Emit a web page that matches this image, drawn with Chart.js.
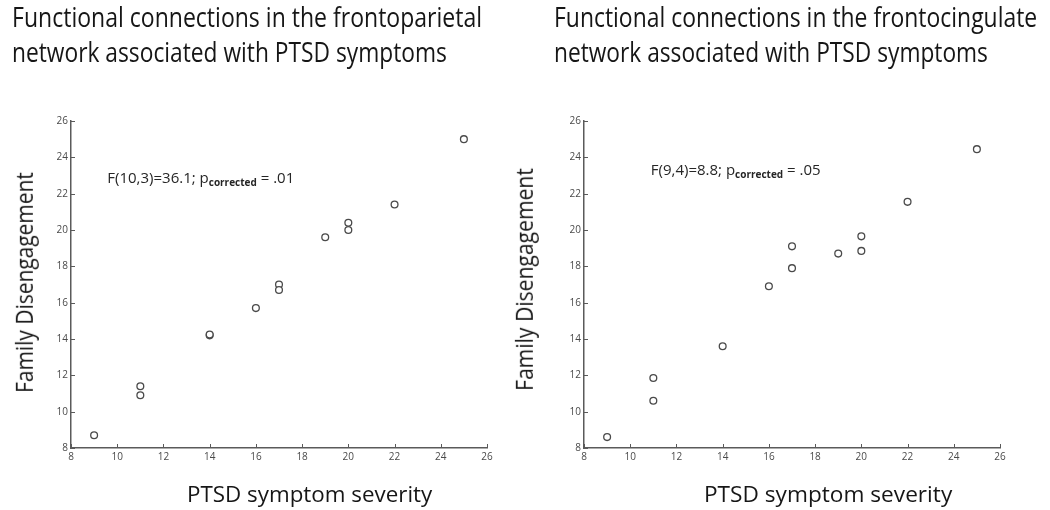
<!DOCTYPE html>
<html>
<head>
<meta charset="utf-8">
<script src="https://cdn.jsdelivr.net/npm/chart.js@4"></script>
<style>
  body { margin: 0; background: #fff; width: 1050px; height: 510px; overflow: hidden; position: relative; }
  canvas { position: absolute; top: 0; }
  .lbl { position: absolute; white-space: nowrap; font-family: 'Open Sans', sans-serif; color: #161616; line-height: 1; transform-origin: 0 0; }
</style>
</head>
<body>
<canvas id="left" width="525" height="510" style="left:0"></canvas>
<canvas id="right" width="525" height="510" style="left:513px"></canvas>

<div class="lbl fit" data-w="470" style="left:12px;top:3px;font-size:27px">Functional connections in the frontoparietal</div>
<div class="lbl fit" data-w="435" style="left:12px;top:38px;font-size:27px">network associated with PTSD symptoms</div>
<div class="lbl fit" data-w="483" style="left:554px;top:3px;font-size:27px">Functional connections in the frontocingulate</div>
<div class="lbl fit" data-w="434" style="left:554px;top:38px;font-size:27px">network associated with PTSD symptoms</div>

<div class="lbl fit" data-w="245" style="left:187px;top:484px;font-size:21px">PTSD symptom severity</div>
<div class="lbl fit" data-w="248" style="left:704px;top:484px;font-size:21px">PTSD symptom severity</div>

<div class="lbl rot" data-w="221" data-cx="24" data-cy="282" style="font-size:23px">Family Disengagement</div>
<div class="lbl rot" data-w="223" data-cx="524" data-cy="279" style="font-size:23px">Family Disengagement</div>

<script>
// data
const tickValues = [8, 10, 12, 14, 16, 18, 20, 22, 24, 26];

const parietalSeverity = [9, 11, 11, 14, 14, 16, 17, 17, 19, 20, 20, 22, 25];
const parietalDisengagement = [8.7, 11.4, 10.9, 14.2, 14.25, 15.7, 17.0, 16.7, 19.6, 20.4, 20.0, 21.4, 25.0];

const cingulateSeverity = [9, 11, 11, 14, 16, 17, 17, 19, 20, 20, 22, 25];
const cingulateDisengagement = [8.6, 11.85, 10.6, 13.6, 16.9, 19.1, 17.9, 18.7, 19.65, 18.85, 21.55, 24.45];

const parietalStat = ['F(10,3)=36.1; p', 'corrected', ' = .01'];
const cingulateStat = ['F(9,4)=8.8; p', 'corrected', ' = .05'];

const axisColor = '#5a5a5a';
const tickColor = '#4a4a4a';

Chart.defaults.font.family = "'Open Sans', sans-serif";
Chart.defaults.color = tickColor;

// small tick marks pointing into the plot, like the matlab axes
const innerTicks = {
    id: 'innerTicks',
    afterDraw(chart) {
        const ctx = chart.ctx;
        const area = chart.chartArea;
        const x = chart.scales.x;
        const y = chart.scales.y;
        ctx.save();
        ctx.strokeStyle = axisColor;
        ctx.lineWidth = 1;
        ctx.beginPath();
        x.ticks.forEach((t, i) => {
            const px = Math.round(x.getPixelForTick(i)) + 0.5;
            ctx.moveTo(px, area.bottom);
            ctx.lineTo(px, area.bottom - 4);
        });
        y.ticks.forEach((t, i) => {
            const py = Math.round(y.getPixelForTick(i)) + 0.5;
            ctx.moveTo(area.left, py);
            ctx.lineTo(area.left + 4, py);
        });
        ctx.stroke();
        ctx.restore();
    }
};

// "F(..)=..; p_corrected = .." note inside the plot
const statNote = {
    id: 'statNote',
    afterDatasetsDraw(chart, args, opts) {
        const ctx = chart.ctx;
        let px = chart.scales.x.getPixelForValue(opts.at[0]);
        const py = chart.scales.y.getPixelForValue(opts.at[1]);
        ctx.save();
        ctx.fillStyle = '#262626';
        ctx.textBaseline = 'alphabetic';
        ctx.font = "15px 'Open Sans'";
        ctx.fillText(opts.text[0], px, py);
        px += ctx.measureText(opts.text[0]).width;
        ctx.font = "bold 10px 'Open Sans'";
        ctx.fillText(opts.text[1], px, py + 3);
        px += ctx.measureText(opts.text[1]).width;
        ctx.font = "15px 'Open Sans'";
        ctx.fillText(opts.text[2], px, py);
        ctx.restore();
    }
};

function makeScatter(id, xs, ys, stat, statAt) {
    const points = xs.map((v, i) => ({ x: v, y: ys[i] }));
    const axis = (fitFn) => ({
        type: 'linear',
        min: tickValues[0],
        max: tickValues[tickValues.length - 1],
        afterBuildTicks: (s) => { s.ticks = tickValues.map(v => ({ value: v })); },
        afterFit: fitFn,
        grid: { display: false, drawTicks: false },
        border: { display: true, color: axisColor, width: 1.5 },
        ticks: { font: { size: 10 }, color: tickColor, padding: 3 }
    });
    return new Chart(document.getElementById(id), {
        type: 'scatter',
        data: {
            datasets: [{
                data: points,
                pointStyle: 'circle',
                pointRadius: 3.4,
                pointBorderWidth: 1.3,
                pointBorderColor: '#4a4a4a',
                pointBackgroundColor: '#fff'
            }]
        },
        options: {
            responsive: false,
            animation: false,
            devicePixelRatio: 1,
            layout: { padding: { top: 121, right: 38, left: 0, bottom: 0 } },
            plugins: {
                legend: { display: false },
                tooltip: { enabled: false },
                statNote: { text: stat, at: statAt }
            },
            scales: {
                x: axis((s) => { s.height = 62; }),
                y: axis((s) => { s.width = 71; })
            }
        },
        plugins: [innerTicks, statNote]
    });
}

makeScatter('left', parietalSeverity, parietalDisengagement, parietalStat, [9.57, 22.6]);
makeScatter('right', cingulateSeverity, cingulateDisengagement, cingulateStat, [10.89, 23.05]);

// squeeze the html labels to the widths seen in the figure
document.querySelectorAll('.fit').forEach((el) => {
    const k = +el.dataset.w / el.offsetWidth;
    el.style.transform = 'scaleX(' + k + ')';
});
document.querySelectorAll('.rot').forEach((el) => {
    const w = el.offsetWidth, h = el.offsetHeight;
    const k = +el.dataset.w / w;
    el.style.left = (+el.dataset.cx - w / 2) + 'px';
    el.style.top = (+el.dataset.cy - h / 2) + 'px';
    el.style.transformOrigin = '50% 50%';
    el.style.transform = 'rotate(-90deg) scaleX(' + k + ')';
});
</script>
</body>
</html>
